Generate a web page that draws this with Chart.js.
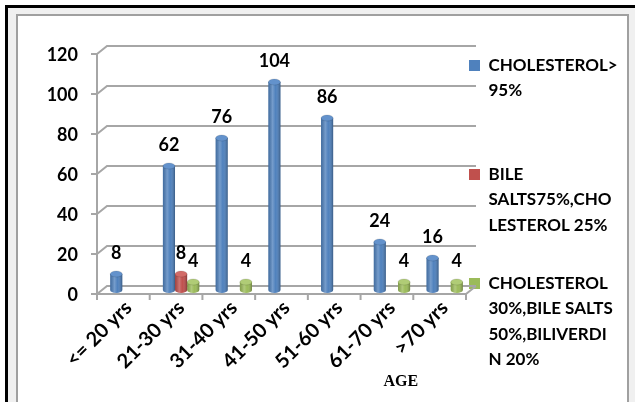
<!DOCTYPE html>
<html>
<head>
<meta charset="utf-8">
<script src="https://cdn.jsdelivr.net/npm/chart.js@4.4.1/dist/chart.umd.min.js"></script>
<style>
  html, body { margin: 0; padding: 0; background: #fff; }
  #wrap { position: relative; width: 635px; height: 402px; overflow: hidden; }
  #outer { position: absolute; left: 5px; top: 5px; right: 0; bottom: 0;
           border-top: 3px solid #000; border-left: 3px solid #000; background: #f0f0f0; }
  #inner { position: absolute; left: 16px; top: 14px; width: 609px; height: 400px;
           border: 2px solid #a0a0a0; border-bottom: none; background: #fff; }
  #chart { position: absolute; left: 0; top: 0; }
</style>
</head>
<body>
<div id="wrap">
  <div id="outer"></div>
  <div id="inner"></div>
  <canvas id="chart" width="635" height="402"></canvas>
</div>
<script>
// ── data ──
const ageGroups = ['<= 20 yrs', '21-30 yrs', '31-40 yrs', '41-50 yrs', '51-60 yrs', '61-70 yrs', '>70 yrs'];
const cholesterol = [8, 62, 76, 104, 86, 24, 16];
const bileSalts   = [null, 8, null, null, null, null, null];
const mixedStones = [null, 4, 4, null, null, 4, 4];
const seriesNames = [
  ['CHOLESTEROL>', '95%'],
  ['BILE', 'SALTS75%,CHO', 'LESTEROL 25%'],
  ['CHOLESTEROL', '30%,BILE SALTS', '50%,BILIVERDI', 'N 20%']
];
const yMin = 0, yMax = 120, yStep = 20;
const axisTitle = 'AGE';

const colors = ['#4F81BD', '#C0504D', '#9BBB59'];
const capColors = ['#6392cc', '#d26b68', '#b0cc76'];

// half depth of the fake 3D box
const DX = 5, DY = 4;

// back wall gridlines, left axis and floor edge
const wall = {
  id: 'wall',
  beforeDatasetsDraw(chart) {
    const { ctx, chartArea: a, scales: { y } } = chart;
    ctx.save();
    ctx.strokeStyle = '#a6a6a6';
    ctx.lineWidth = 2;
    y.ticks.forEach((t, i) => {
      const p = y.getPixelForTick(i);
      ctx.beginPath();
      ctx.moveTo(a.left - DX - 6, p + DY);
      ctx.lineTo(a.left - DX, p + DY);
      ctx.lineTo(a.left + DX, p - DY);
      ctx.lineTo(a.right + DX, p - DY);
      ctx.stroke();
    });
    const base = y.getPixelForValue(yMin);
    const top = y.getPixelForValue(yMax);
    const step = (a.right - a.left) / ageGroups.length;
    ctx.beginPath();
    ctx.moveTo(a.left - DX, top + DY);
    ctx.lineTo(a.left - DX, base + DY + 6);
    ctx.moveTo(a.left - DX, base + DY);
    ctx.lineTo(a.right - DX, base + DY);
    ctx.lineTo(a.right + DX, base - DY);
    for (let i = 1; i <= ageGroups.length; i++) {
      const px = a.left - DX + i * step;
      ctx.moveTo(px, base + DY);
      ctx.lineTo(px, base + DY + 6);
    }
    ctx.stroke();
    ctx.restore();
  }
};

// shade bars as cylinders, then put the values on top
const cylinders = {
  id: 'cylinders',
  afterDatasetsDraw(chart) {
    const ctx = chart.ctx;
    chart.data.datasets.forEach((ds, di) => {
      chart.getDatasetMeta(di).data.forEach((bar, i) => {
        if (ds.data[i] == null) return;
        const w = bar.width, l = bar.x - w / 2, top = bar.y, bot = bar.base;
        const ry = 3;
        ctx.save();
        ctx.fillStyle = colors[di];
        ctx.beginPath();
        ctx.ellipse(bar.x, bot, w / 2, ry, 0, 0, Math.PI);
        ctx.fill();
        const g = ctx.createLinearGradient(l, 0, l + w, 0);
        g.addColorStop(0, 'rgba(0,0,0,0.15)');
        g.addColorStop(0.35, 'rgba(255,255,255,0.22)');
        g.addColorStop(0.6, 'rgba(255,255,255,0)');
        g.addColorStop(1, 'rgba(0,0,0,0.3)');
        ctx.fillStyle = g;
        ctx.beginPath();
        ctx.rect(l, top, w, bot - top);
        ctx.fill();
        ctx.beginPath();
        ctx.ellipse(bar.x, bot, w / 2, ry, 0, 0, Math.PI);
        ctx.fill();
        ctx.beginPath();
        ctx.ellipse(bar.x, top, w / 2, ry, 0, 0, Math.PI * 2);
        ctx.fillStyle = capColors[di];
        ctx.fill();
        ctx.strokeStyle = 'rgba(0,0,0,0.15)';
        ctx.lineWidth = 0.8;
        ctx.stroke();

        ctx.fillStyle = '#000';
        ctx.font = 'bold 18px Lato';
        ctx.textAlign = 'center';
        ctx.textBaseline = 'middle';
        ctx.fillText(String(ds.data[i]), bar.x, top - 21);
        ctx.restore();
      });
    });
  },
  afterLayout(chart) {
    // legend keys sit slightly over the right edge of the floor
    chart.legend.left -= 9;
    chart.legend.right -= 9;
  },
  afterDraw(chart) {
    const { ctx, chartArea: a } = chart;
    ctx.save();
    ctx.fillStyle = '#000';
    ctx.font = 'bold 16px "Liberation Serif"';
    ctx.textAlign = 'center';
    ctx.textBaseline = 'middle';
    ctx.fillText(axisTitle, a.left + (a.right - a.left) * 0.81, 382);
    ctx.restore();
  }
};

const datasets = [cholesterol, bileSalts, mixedStones].map((d, i) => ({
  label: seriesNames[i].join(' '),
  data: d,
  backgroundColor: colors[i],
  borderWidth: 0,
  barPercentage: 1,
  categoryPercentage: 0.69
}));

new Chart(document.getElementById('chart'), {
  type: 'bar',
  data: { labels: ageGroups, datasets },
  options: {
    responsive: false,
    animation: false,
    layout: { padding: { left: 19, top: 50, right: 9, bottom: 0 }, autoPadding: false },
    plugins: {
      tooltip: { enabled: false },
      legend: {
        position: 'right',
        align: 'start',
        maxWidth: 155,
        labels: {
          boxWidth: 11,
          boxHeight: 11,
          padding: 7,
          color: '#000',
          font: { family: 'Lato', size: 17, weight: 'bold', lineHeight: 1.5 },
          generateLabels(chart) {
            return chart.data.datasets.map((ds, i) => {
              const lines = seriesNames[i].slice();
              while (lines.length < 4) lines.push('');
              return {
                text: lines,
                fillStyle: colors[i],
                strokeStyle: colors[i],
                lineWidth: 0,
                hidden: false,
                datasetIndex: i
              };
            });
          }
        }
      }
    },
    scales: {
      x: {
        grid: { display: false, drawTicks: false },
        border: { display: false },
        ticks: {
          color: '#000',
          autoSkip: false,
          maxRotation: 45,
          minRotation: 45,
          padding: 6,
          font: { family: 'Lato', size: 20, weight: 'bold' }
        },
        afterFit(s) { s.height = 112; }
      },
      y: {
        min: yMin,
        max: yMax,
        grid: { display: false, drawTicks: false },
        border: { display: false },
        ticks: {
          stepSize: yStep,
          color: '#000',
          padding: 24,
          labelOffset: 5,
          font: { family: 'Lato', size: 18, weight: 'bold' }
        },
        afterFit(s) { s.width = 83; }
      }
    }
  },
  plugins: [wall, cylinders]
});
</script>
</body>
</html>
